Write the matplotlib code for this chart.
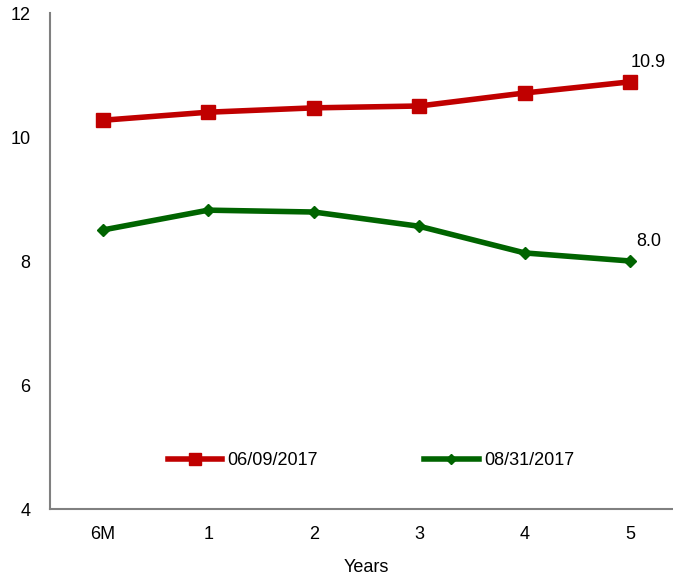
import matplotlib.pyplot as plt
import numpy as np

plt.rcParams['font.family'] = ['Liberation Sans', 'DejaVu Sans']

categories = ['6M', '1', '2', '3', '4', '5']
red_vals = [10.27, 10.40, 10.47, 10.50, 10.71, 10.89]
green_vals = [8.50, 8.82, 8.79, 8.56, 8.13, 8.00]
red_name = '06/09/2017'
green_name = '08/31/2017'

fig = plt.figure(figsize=(6.73, 5.82), dpi=100)
# right edge runs past the picture, like the reference
ax = fig.add_axes([50 / 673, (582 - 509) / 582, 633 / 673, 496 / 582])

x = np.arange(len(categories))
ax.plot(x, red_vals, color='#c00000', lw=4, marker='s', ms=10, label=red_name)
ax.plot(x, green_vals, color='#006400', lw=4, marker='D', ms=6, label=green_name)

ax.annotate('%.1f' % red_vals[-1], (x[-1], red_vals[-1]), xytext=(0, 11),
            textcoords='offset points', fontsize=13)
ax.annotate('%.1f' % green_vals[-1], (x[-1], green_vals[-1]), xytext=(4, 11),
            textcoords='offset points', fontsize=13)

ax.set_xlim(-0.5, len(categories) - 0.5)
ax.set_ylim(4, 12)
ax.set_yticks([4, 6, 8, 10, 12])
ax.set_xticks(x)
ax.set_xticklabels(categories)
ax.tick_params(axis='both', length=0, labelsize=13)
ax.tick_params(axis='x', pad=12)
ax.tick_params(axis='y', pad=14)
ax.set_xlabel('Years', fontsize=13, labelpad=12)

for s in ['top', 'right']:
    ax.spines[s].set_visible(False)
for s in ['left', 'bottom']:
    ax.spines[s].set_color('#808080')
    ax.spines[s].set_linewidth(1.5)

ax.legend(loc='center', bbox_to_anchor=(0.507, 0.098), ncol=2, frameon=False,
          fontsize=13, columnspacing=5.9, handlelength=3.0, handletextpad=0.3,
          markerscale=0.8)

fig.savefig('out.png')
